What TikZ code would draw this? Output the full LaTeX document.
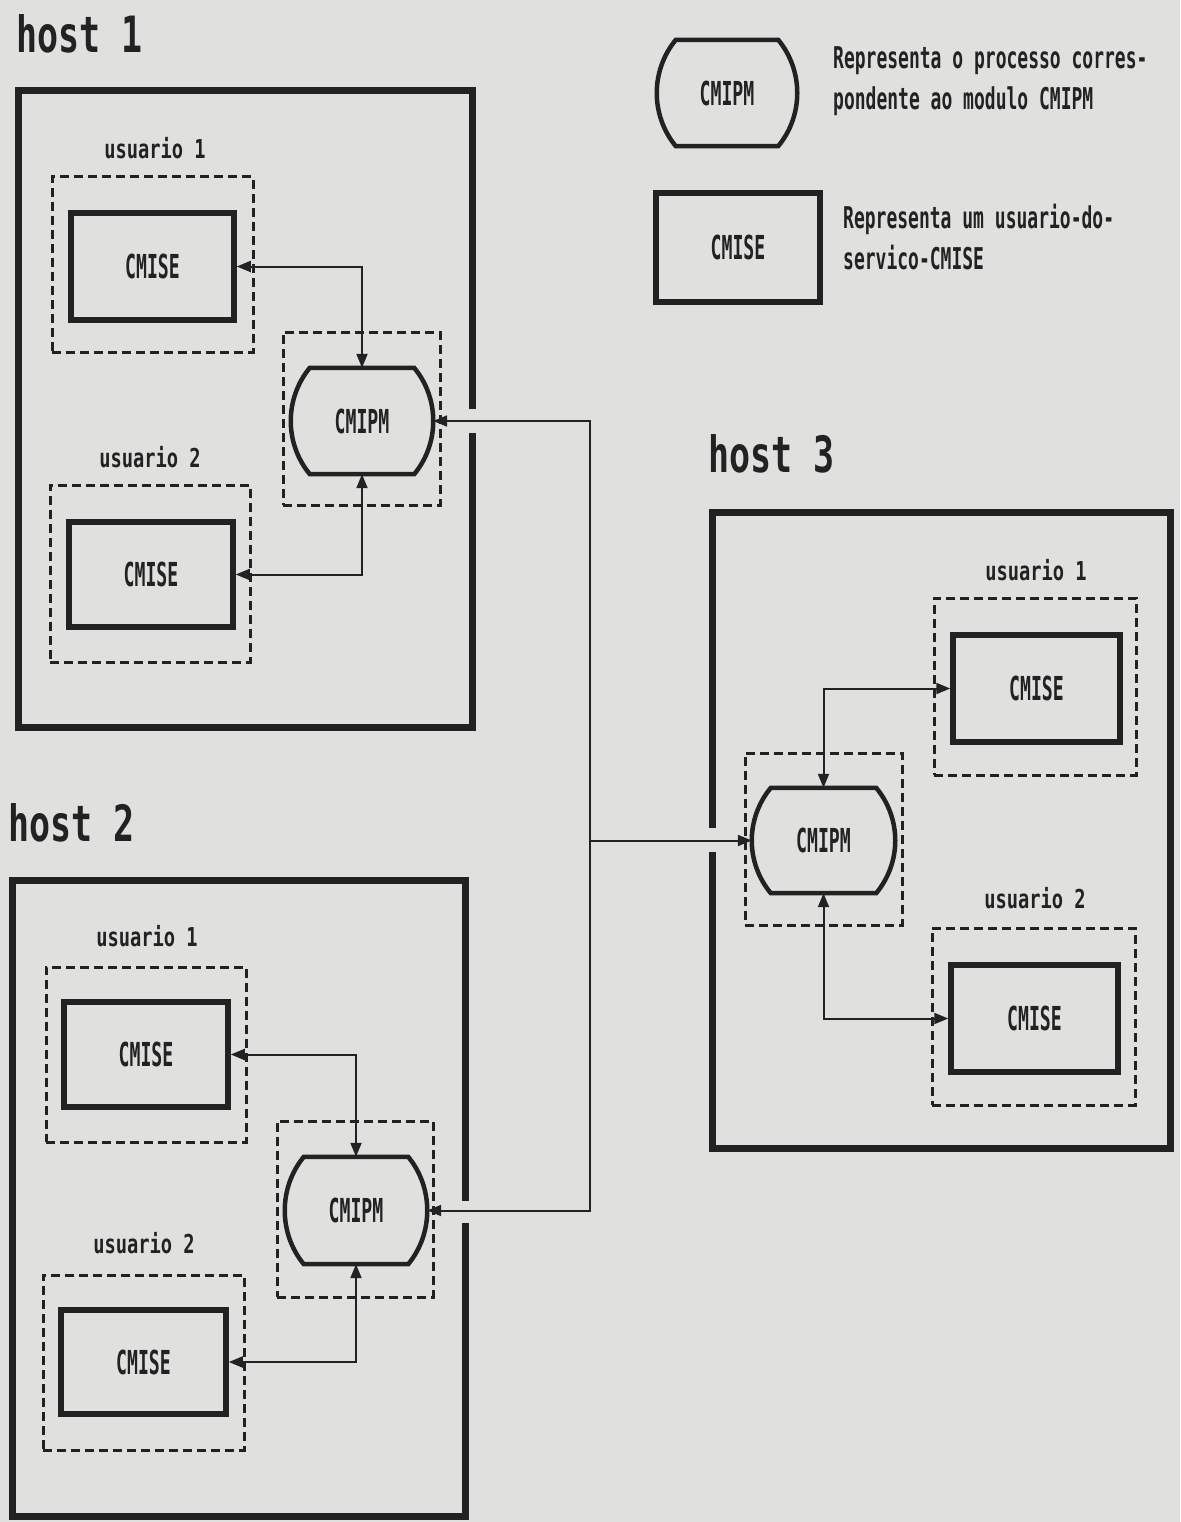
\documentclass[tikz,border=0pt]{standalone}
\usepackage{fontspec}
\usetikzlibrary{arrows.meta,calc}
\newfontfamily\cmf{DejaVu Sans Mono}[FakeStretch=0.55]
\newfontfamily\usf{DejaVu Sans Mono}[FakeStretch=0.72]
\newfontfamily\lgf{DejaVu Sans Mono}[FakeStretch=0.6]
\newfontfamily\hsf{DejaVu Sans Mono}[FakeStretch=0.7]
\definecolor{paper}{RGB}{224,224,222}
\definecolor{ink}{RGB}{34,34,34}
\tikzset{
  hostline/.style={ink, line width=7pt, line join=miter, line cap=butt},
  cmisebox/.style={draw=ink, line width=5.5pt, rectangle, inner sep=0pt,
     font=\cmf\bfseries\fontsize{33}{35}\selectfont, text=ink},
  pmnode/.style={draw=none, rectangle, inner sep=0pt,
     font=\cmf\bfseries\fontsize{33}{35}\selectfont, text=ink},
  pmline/.style={draw=ink, line width=4.5pt, line join=miter},
  userbox/.style={draw=ink, line width=3pt, dash pattern=on 9pt off 5pt, rectangle, inner sep=0pt},
  userlabel/.style={font=\usf\bfseries\fontsize{26}{28}\selectfont, text=ink, inner sep=0pt},
  hostlabel/.style={font=\hsf\bfseries\fontsize{50}{52}\selectfont, text=ink, inner sep=0pt, anchor=west},
  legendtext/.style={font=\lgf\bfseries\fontsize{30}{41}\selectfont, text=ink, inner sep=0pt, anchor=west, align=left},
  wire/.style={draw=ink, line width=2pt},
  tip/.tip={Triangle[length=14pt,width=11pt]},
}
\newcommand\pmdraw[1]{%
  \draw[pmline] ([xshift=19pt]#1.north west) -- ([xshift=-19pt]#1.north east)
    .. controls ([xshift=6.4pt,yshift=-30.8pt]#1.north east) and ([xshift=6.4pt,yshift=30.8pt]#1.south east) .. ([xshift=-19pt]#1.south east)
    -- ([xshift=19pt]#1.south west)
    .. controls ([xshift=-6.4pt,yshift=30.8pt]#1.south west) and ([xshift=-6.4pt,yshift=-30.8pt]#1.north west) .. cycle;}
\begin{document}
\begin{tikzpicture}[x=1pt,y=-1pt]
\fill[paper] (0,0) rectangle (1180,1522);
\path[use as bounding box] (0,0) rectangle (1180,1522);

% ---------- legend ----------
\node[pmnode, minimum width=140pt, minimum height=106pt] (pmL) at (727,93) {CMIPM};
\pmdraw{pmL}
\node[legendtext] (lgA) at (833,81) {Representa o processo corres-\\pondente ao modulo CMIPM};
\node[cmisebox, minimum width=164pt, minimum height=109pt] (ceL) at (738,247.5) {CMISE};
\node[legendtext] (lgB) at (843,237) {Representa um usuario-do-\\servico-CMISE};

% ---------- host 1 ----------
\node[hostlabel] (hA) at (16,34) {host 1};
\draw[hostline] (472,409) -- (472,91) -- (18,91) -- (18,727) -- (472,727) -- (472,433);
\node[userlabel] (uA1) at (155,148) {usuario 1};
\node[userbox, minimum width=201pt, minimum height=175pt] (dA1) at (152.5,264.5) {};
\node[cmisebox, minimum width=163pt, minimum height=107pt] (ceA1) at (152.5,266.5) {CMISE};
\node[userbox, minimum width=157pt, minimum height=173pt] (dApm) at (361.5,418.5) {};
\node[pmnode, minimum width=142pt, minimum height=106pt] (pmA) at (362,421) {CMIPM};
\pmdraw{pmA}
\node[userlabel] (uA2) at (150,457) {usuario 2};
\node[userbox, minimum width=200pt, minimum height=177pt] (dA2) at (150,573.5) {};
\node[cmisebox, minimum width=164pt, minimum height=105pt] (ceA2) at (151,574.5) {CMISE};
\draw[wire, tip-tip] (ceA1.east) -| (pmA.north);
\draw[wire, tip-tip] (ceA2.east) -| (pmA.south);

% ---------- host 3 ----------
\node[hostlabel] (hC) at (708,454) {host 3};
\draw[hostline] (712,828) -- (712,512) -- (1170,512) -- (1170,1148) -- (712,1148) -- (712,852);
\node[userlabel] (uC1) at (1036,570) {usuario 1};
\node[userbox, minimum width=202pt, minimum height=177pt] (dC1) at (1035,686.5) {};
\node[cmisebox, minimum width=167pt, minimum height=107pt] (ceC1) at (1036.5,688.5) {CMISE};
\node[userbox, minimum width=157pt, minimum height=172pt] (dCpm) at (823.5,839) {};
\node[pmnode, minimum width=143pt, minimum height=105pt] (pmC) at (823.5,840.5) {CMIPM};
\pmdraw{pmC}
\node[userlabel] (uC2) at (1035,898) {usuario 2};
\node[userbox, minimum width=203pt, minimum height=177pt] (dC2) at (1033.5,1016.5) {};
\node[cmisebox, minimum width=167pt, minimum height=107pt] (ceC2) at (1034.5,1018.5) {CMISE};
\draw[wire, tip-tip] (pmC.north) |- (ceC1.west);
\draw[wire, tip-tip] (pmC.south) |- (ceC2.west);

% ---------- host 2 ----------
\node[hostlabel] (hB) at (8,823) {host 2};
\draw[hostline] (465,1201) -- (465,880) -- (12,880) -- (12,1516) -- (465,1516) -- (465,1223);
\node[userlabel] (uB1) at (147,936) {usuario 1};
\node[userbox, minimum width=200pt, minimum height=175pt] (dB1) at (146,1054.5) {};
\node[cmisebox, minimum width=164pt, minimum height=105pt] (ceB1) at (146,1054.5) {CMISE};
\node[userbox, minimum width=156pt, minimum height=176pt] (dBpm) at (355,1209) {};
\node[pmnode, minimum width=142pt, minimum height=107pt] (pmB) at (356,1210.5) {CMIPM};
\pmdraw{pmB}
\node[userlabel] (uB2) at (144,1243) {usuario 2};
\node[userbox, minimum width=201pt, minimum height=175pt] (dB2) at (143.5,1362.5) {};
\node[cmisebox, minimum width=165pt, minimum height=104pt] (ceB2) at (143.5,1362) {CMISE};
\draw[wire, tip-tip] (ceB1.east) -| (pmB.north);
\draw[wire, tip-tip] (ceB2.east) -| (pmB.south);

% ---------- inter-host bus ----------
\coordinate (busx) at (590,0);
\draw[wire, tip-tip] (pmA.east) -| (busx |- pmB.east) -- (pmB.east);
\draw[wire, -tip] (busx |- pmC.west) -- (pmC.west);
\end{tikzpicture}
\end{document}
